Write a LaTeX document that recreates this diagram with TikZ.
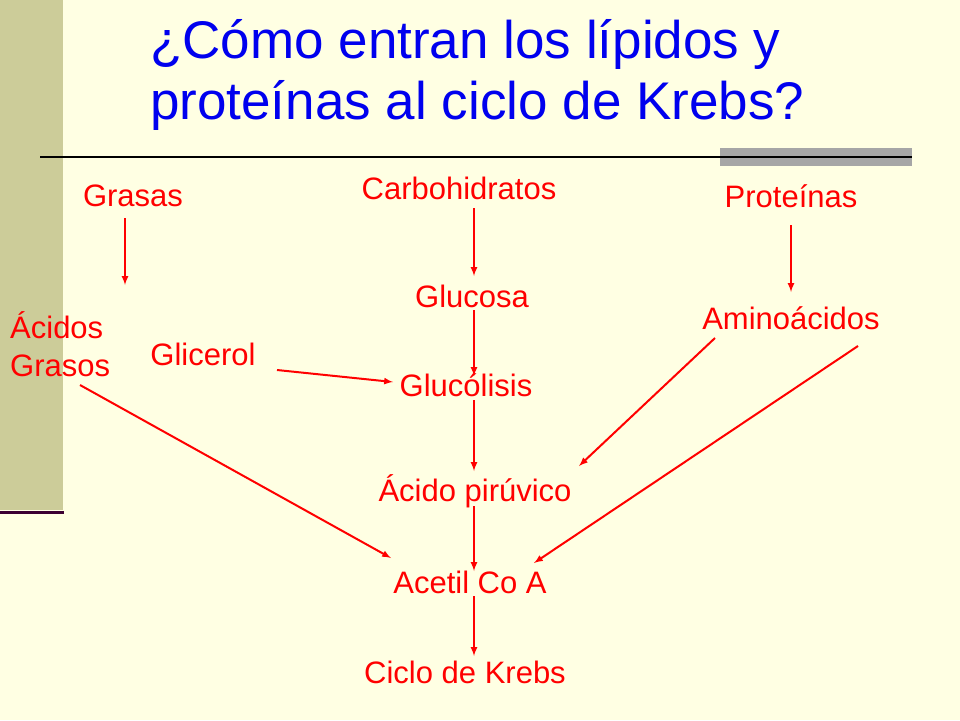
\documentclass[tikz,border=0pt]{standalone}
\usepackage{fontspec}
\setmainfont{Liberation Sans}
\begin{document}
\begin{tikzpicture}[x=1pt,y=-1pt,
 lbl/.style={text=red,font=\fontsize{31}{38}\selectfont,inner sep=0pt,align=left},
 arr/.style={draw=red,line width=2pt,-latex}]
\definecolor{bg}{HTML}{FFFFE3}
\definecolor{bar}{HTML}{CCCC99}
\definecolor{tb}{HTML}{0000EE}
\fill[bg] (0,0) rectangle (960,720);
\useasboundingbox (0,0) rectangle (960,720);
\fill[bar] (0,0) rectangle (63,510);
\draw[line width=3pt,color={rgb,255:red,60;green,0;blue,50}] (0,512) -- (64,512);
\fill[gray!70] (720,148) rectangle (912,166);
\draw[line width=1.2pt,black] (40,157) -- (912,157);
\node[anchor=west,text=tb,font=\fontsize{53}{61}\selectfont,align=left,inner sep=0pt] (title) at (150,75) {¿Cómo entran los lípidos y\\proteínas al ciclo de Krebs?};
\node[lbl] (gr) at (133,196) {Grasas};
\node[lbl] (ch) at (459,188) {Carbohidratos};
\node[lbl] (pr) at (791,196) {Proteínas};
\node[lbl] (gc) at (472,296) {Glucosa};
\node[lbl] (aa) at (791,318) {Aminoácidos};
\node[lbl,align=left,anchor=west] (ag) at (10,344) {Ácidos\\Grasos};
\node[lbl] (gl) at (203,354) {Glicerol};
\node[lbl] (gs) at (466,385) {Glucólisis};
\node[lbl] (ap) at (475,491) {Ácido pirúvico};
\node[lbl] (ac) at (470,582) {Acetil Co A};
\node[lbl] (kr) at (465,672) {Ciclo de Krebs};
\coordinate (a1) at (125,218); \coordinate (b1) at (125,285);
\draw[arr] (a1) -- (b1);
\coordinate (a2) at (474,208); \coordinate (b2) at (474,276);
\draw[arr] (a2) -- (b2);
\coordinate (a3) at (474,310); \coordinate (b3) at (474,376);
\draw[arr] (a3) -- (b3);
\coordinate (a4) at (474,400); \coordinate (b4) at (474,471);
\draw[arr] (a4) -- (b4);
\coordinate (a5) at (474,506); \coordinate (b5) at (474,571);
\draw[arr] (a5) -- (b5);
\coordinate (a6) at (474,596); \coordinate (b6) at (474,656);
\draw[arr] (a6) -- (b6);
\coordinate (a7) at (791,225); \coordinate (b7) at (791,292);
\draw[arr] (a7) -- (b7);
\coordinate (a8) at (715,338); \coordinate (b8) at (579,466);
\draw[arr] (a8) -- (b8);
\coordinate (a9) at (858,346); \coordinate (b9) at (534,563);
\draw[arr] (a9) -- (b9);
\coordinate (a10) at (277,370); \coordinate (b10) at (393,382);
\draw[arr] (a10) -- (b10);
\coordinate (a11) at (80,385); \coordinate (b11) at (391,558);
\draw[arr] (a11) -- (b11);
\end{tikzpicture}
\end{document}
